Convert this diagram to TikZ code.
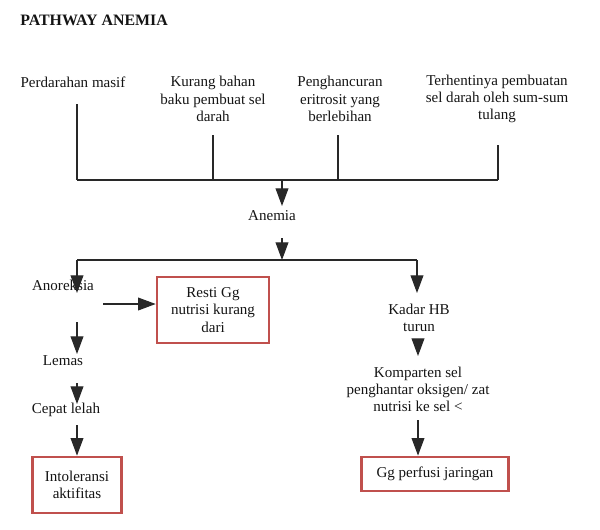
\documentclass[tikz,border=0pt]{standalone}
\usepackage{fontspec}
\setmainfont{Liberation Serif}
\usetikzlibrary{arrows.meta,positioning}
\definecolor{boxcol}{RGB}{192,80,77}
\definecolor{linecol}{RGB}{40,40,40}
\definecolor{labelcol}{RGB}{20,20,20}

\begin{document}
\begin{tikzpicture}[
  x=0.025cm, y=-0.025cm,
  txt/.style={font=\fontsize{10.7}{12.2}\selectfont, text=labelcol, align=center, inner sep=0pt},
  redbox/.style={
    draw=boxcol, line width=2pt, fill=white,
    align=center, font=\fontsize{10.7}{12.2}\selectfont, text=labelcol, inner sep=2pt
  },
  wire/.style={draw=linecol, line width=0.8pt},
  flow/.style={draw=linecol, line width=0.8pt, -{Triangle[length=4.4mm,width=3.2mm]}}
]
\useasboundingbox (0,0) rectangle (600,529);

%% ===================== Title ====================================
\node[txt, font=\fontsize{11.3}{12}\selectfont\bfseries, anchor=west] (title) at (20,20) {PATHWAY ANEMIA};

%% ===================== Causes (top row) =========================
\node[txt] (perd)   at (73,82)  {Perdarahan masif};
\node[txt] (kurang) at (213,99) {Kurang bahan\\baku pembuat sel\\darah};
\node[txt] (hancur) at (340,99) {Penghancuran\\eritrosit yang\\berlebihan};
\node[txt] (henti)  at (497,99) {Terhentinya pembuatan\\sel darah oleh sum-sum\\tulang};

\coordinate (t1) at (77,104);
\coordinate (t2) at (213,135);
\coordinate (t3) at (338,135);
\coordinate (t4) at (498,145);
\coordinate (b1) at (77,180);
\coordinate (b2) at (213,180);
\coordinate (b3) at (338,180);
\coordinate (b4) at (498,180);
\coordinate (bm) at (282,180);

\draw[wire] (t1) -- (b1);
\draw[wire] (t2) -- (b2);
\draw[wire] (t3) -- (b3);
\draw[wire] (t4) -- (b4);
\draw[wire] (b1) -- (b4);

%% ===================== Anemia ===================================
\node[txt] (anemia) at (272,216) {Anemia};
\draw[flow] (bm) -- (282,206);

\coordinate (a2) at (282,238);
\coordinate (split) at (282,260);
\coordinate (jl) at (77,260);
\coordinate (jr) at (417,260);
\draw[flow] (a2) -- (split);
\draw[wire] (jl) -- (jr);

%% ===================== Left branch ==============================
\node[txt] (anor)  at (63,285)  {Anoreksia};
\node[txt] (lemas) at (63,361)  {Lemas};
\node[txt] (cepat) at (66,410)  {Cepat lelah};
\node[redbox, minimum width=112pt*0.71, minimum height=66pt*0.71] (resti) at (213,310) {Resti Gg\\nutrisi kurang\\dari};
\node[redbox, minimum width=89pt*0.71, minimum height=56pt*0.71] (intol) at (77,485) {Intoleransi\\aktifitas};

\coordinate (r0) at (103,304);
\draw[flow] (jl) -- (77,293);
\draw[flow] (r0) -- (resti.west |- r0);
\draw[flow] (77,322) -- (77,354);
\draw[flow] (77,383) -- (77,404);
\draw[flow] (77,425) -- (intol.north);

%% ===================== Right branch =============================
\node[txt] (kadar)   at (419,318) {Kadar HB\\turun};
\node[txt] (kompar)  at (418,389) {Komparten sel\\penghantar oksigen/ zat\\nutrisi ke sel <};
\node[redbox, minimum width=148pt*0.71, minimum height=34pt*0.71] (perfusi) at (435,474) {Gg perfusi jaringan};

\draw[flow] (jr) -- (417,293);
\draw[flow] (418,341) -- (418,356);
\draw[flow] (418,420) -- (perfusi.north -| 418,0);

\end{tikzpicture}
\end{document}
